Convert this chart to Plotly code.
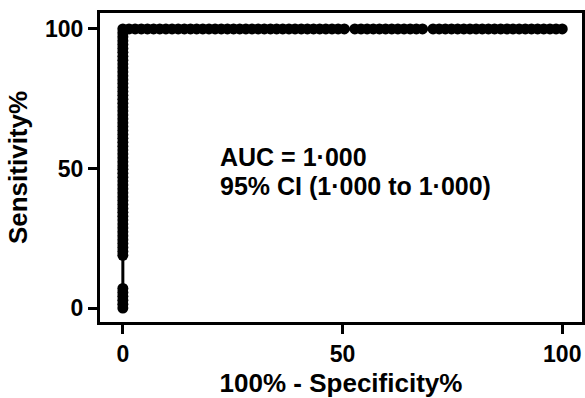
import plotly.graph_objects as go

# ROC curve points (in %)
vert_fpr = [0] * 65
vert_tpr = [0, 1.4, 2.8, 4.2, 5.6, 7.0, 18.9, 20.3, 21.7, 23.1, 24.5, 25.9, 27.3, 28.7,
            30.1, 31.5, 32.9, 34.3, 35.7, 37.1, 38.5, 39.9, 41.3, 42.7, 44.1, 45.5,
            46.9, 48.3, 49.7, 51.0, 52.4, 53.8, 55.2, 56.6, 58.0, 59.4, 60.8, 62.2,
            63.6, 65.0, 66.4, 67.8, 69.2, 70.6, 72.0, 73.4, 74.8, 76.2, 77.6, 79.0,
            80.4, 81.8, 83.2, 84.6, 86.0, 87.4, 88.8, 90.2, 91.6, 93.0, 94.4, 95.8,
            97.2, 98.6, 100]
horiz_fpr = [1.4, 2.8, 4.2, 5.6, 7.0, 8.4, 9.8, 11.2, 12.6, 14.0, 15.4, 16.8, 18.2,
             19.6, 21.0, 22.4, 23.8, 25.2, 26.6, 28.0, 29.4, 30.8, 32.2, 33.6, 35.0,
             36.4, 37.8, 39.2, 40.6, 42.0, 43.4, 44.8, 46.2, 47.6, 49.0, 50.4, 52.8,
             54.2, 55.6, 57.0, 58.4, 59.8, 61.2, 62.6, 64.0, 65.4, 66.8, 68.2, 70.6,
             72.0, 73.4, 74.8, 76.2, 77.6, 79.0, 80.4, 81.8, 83.2, 84.6, 86.0, 87.4,
             88.8, 90.2, 91.6, 93.0, 94.4, 95.8, 97.2, 98.6, 100]
horiz_tpr = [100] * len(horiz_fpr)

fpr = vert_fpr + horiz_fpr
tpr = vert_tpr + horiz_tpr

tick_vals = [0, 50, 100]
tick_text = ["0", "50", "100"]
auc_lines = ["AUC = 1·000", "95% CI (1·000 to 1·000)"]

FONT = "Liberation Sans, Arial, sans-serif"

fig = go.Figure()
fig.add_trace(go.Scatter(
    x=fpr, y=tpr, mode="lines+markers",
    line=dict(color="black", width=3),
    marker=dict(color="black", size=11),
    showlegend=False, hoverinfo="skip",
))

fig.add_annotation(x=21.6, y=54.0, xref="x", yref="y", text=auc_lines[0],
                   showarrow=False, xanchor="left", yanchor="middle",
                   font=dict(family=FONT, size=25, color="black", weight="bold"))
fig.add_annotation(x=21.6, y=43.6, xref="x", yref="y", text=auc_lines[1],
                   showarrow=False, xanchor="left", yanchor="middle",
                   font=dict(family=FONT, size=25, color="black", weight="bold"))

axis_common = dict(
    showgrid=False, zeroline=False, showline=True, linecolor="black", linewidth=3,
    mirror=True, ticks="outside", ticklen=9, tickwidth=3, tickcolor="black",
    tickvals=tick_vals, ticktext=tick_text,
    tickfont=dict(family=FONT, size=23, color="black", weight="bold"),
)

fig.update_xaxes(range=[-5.2, 104.5], **axis_common,
                 title=dict(text="100% - Specificity%", standoff=15,
                            font=dict(family=FONT, size=26, color="black", weight="bold")))
fig.update_yaxes(range=[-5, 105.7], **axis_common,
                 title=dict(text="Sensitivity%", standoff=10,
                            font=dict(family=FONT, size=26, color="black", weight="bold")))

fig.update_layout(
    width=585, height=398,
    margin=dict(l=100, r=3, t=13, b=76, autoexpand=False),
    paper_bgcolor="white", plot_bgcolor="white",
)
fig.update_xaxes(automargin=False)
fig.update_yaxes(automargin=False)

fig.write_html("out.html")
